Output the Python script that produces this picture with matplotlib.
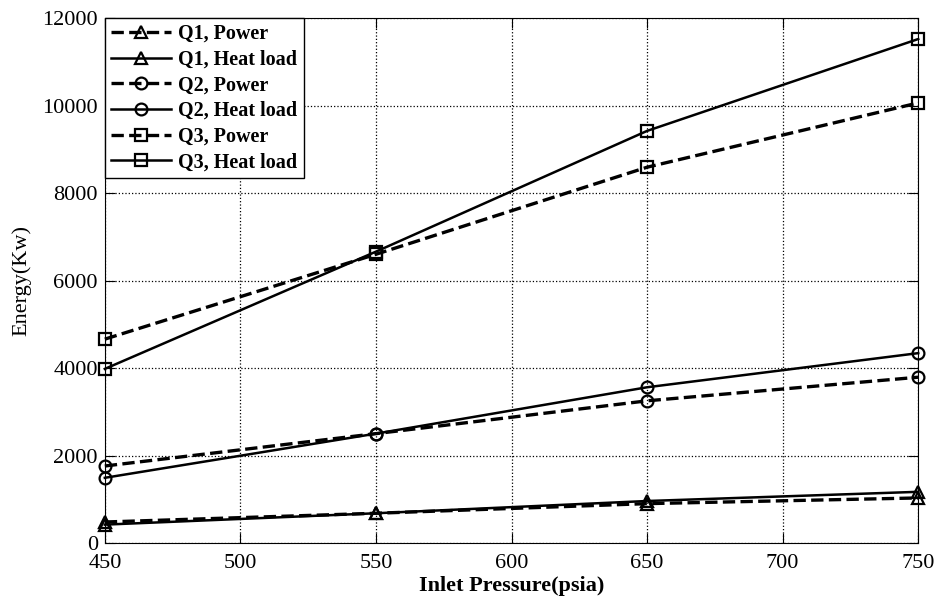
import matplotlib
matplotlib.use("Agg")
import matplotlib.pyplot as plt

pressure = [450, 550, 650, 750]

q1_power = [480, 680, 900, 1030]
q1_heat = [420, 680, 960, 1170]
q2_power = [1760, 2500, 3250, 3790]
q2_heat = [1490, 2500, 3560, 4340]
q3_power = [4660, 6600, 8590, 10060]
q3_heat = [3980, 6660, 9420, 11520]

series = [
    ("Q1, Power", q1_power, "^", "--"),
    ("Q1, Heat load", q1_heat, "^", "-"),
    ("Q2, Power", q2_power, "o", "--"),
    ("Q2, Heat load", q2_heat, "o", "-"),
    ("Q3, Power", q3_power, "s", "--"),
    ("Q3, Heat load", q3_heat, "s", "-"),
]

plt.rcParams["font.family"] = ["Liberation Serif", "DejaVu Serif"]

fig = plt.figure(figsize=(9.36, 6.01), dpi=100)
ax = fig.add_axes([0.112, 0.0965, 0.869, 0.8735])

for label, vals, marker, ls in series:
    lw = 2.4 if ls == "--" else 1.8
    ax.plot(pressure, vals, color="black", linestyle=ls, linewidth=lw,
            marker=marker, markersize=8.5, markerfacecolor="none",
            markeredgewidth=1.6, label=label, clip_on=False, zorder=3)

ax.set_xlim(450, 750)
ax.set_ylim(0, 12000)
ax.set_xticks(range(450, 751, 50))
ax.set_yticks(range(0, 12001, 2000))
ax.tick_params(direction="in", top=True, right=True, labelsize=16, length=7)
ax.tick_params(axis="x", pad=8)
ax.tick_params(axis="y", pad=5)
ax.grid(True, color="black", linestyle=":", linewidth=0.9)
ax.set_xlabel("Inlet Pressure(psia)", fontsize=16, fontweight="bold", labelpad=2)
ax.set_ylabel("Energy(Kw)", fontsize=16, labelpad=8)

leg = ax.legend(loc="upper left", bbox_to_anchor=(0.0, 1.0), borderaxespad=0,
                fancybox=False, edgecolor="black", framealpha=1,
                prop={"weight": "bold", "size": 14.5}, handlelength=3.0,
                labelspacing=0.28, borderpad=0.3, handletextpad=0.35)
leg.get_frame().set_linewidth(1)

fig.savefig("out.png", dpi=100)
